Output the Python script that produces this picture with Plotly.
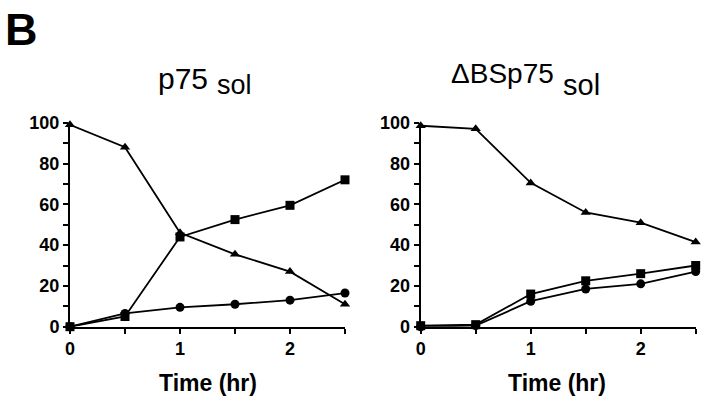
import plotly.graph_objects as go

time_hr = [0, 0.5, 1, 1.5, 2, 2.5]

# Left panel: p75sol
p75_triangle = [99, 88, 46, 35.5, 27, 11]
p75_square = [0, 5, 44, 52.5, 59.5, 72]
p75_circle = [0, 6.5, 9.5, 11, 13, 16.5]

# Right panel: ΔBSp75sol
dbs_triangle = [98.5, 97, 70.5, 56, 51, 41.5]
dbs_square = [0.5, 1, 16, 22.5, 26, 30]
dbs_circle = [0, 0.5, 12.5, 18.5, 21, 27]

y_ticks = [0, 20, 40, 60, 80, 100]
x_ticks = [0, 1, 2]

W, H = 720, 403
fig = go.Figure()

def add_series(xaxis, yaxis, ys, symbol, size):
    fig.add_trace(go.Scatter(
        x=time_hr, y=ys, mode="lines+markers", xaxis=xaxis, yaxis=yaxis,
        line=dict(color="black", width=1.8),
        marker=dict(symbol=symbol, size=size, color="black"),
        cliponaxis=False, showlegend=False, hoverinfo="skip"))

add_series("x", "y", p75_triangle, "triangle-up", 9)
add_series("x", "y", p75_square, "square", 9)
add_series("x", "y", p75_circle, "circle", 9)
add_series("x2", "y2", dbs_triangle, "triangle-up", 9)
add_series("x2", "y2", dbs_square, "square", 9)
add_series("x2", "y2", dbs_circle, "circle", 9)

tickfont = dict(family="Liberation Sans", size=18, color="black", weight="bold")
ydom = [1 - 326.7 / H, 1 - 122.7 / H]

def xax(dom):
    return dict(domain=dom, range=[0, 2.5], showline=True, linecolor="black", linewidth=2,
                ticks="outside", ticklen=5, tickwidth=1.5, tickcolor="black",
                tickvals=x_ticks, ticktext=[str(v) for v in x_ticks],
                minor=dict(dtick=0.5, tick0=0, ticks="outside", ticklen=5, tickwidth=1.5, tickcolor="black"),
                showgrid=False, zeroline=False, tickfont=tickfont, fixedrange=True, automargin=False)

def yax(anchor):
    return dict(domain=ydom, range=[0, 100], anchor=anchor, showline=True, linecolor="black", linewidth=2,
                ticks="outside", ticklen=5, tickwidth=1.5, tickcolor="black",
                tickvals=y_ticks, ticktext=[str(v) for v in y_ticks],
                minor=dict(dtick=10, tick0=0, ticks="outside", ticklen=5, tickwidth=1.5, tickcolor="black"),
                showgrid=False, zeroline=False, tickfont=tickfont, fixedrange=True, automargin=False)

fig.update_layout(
    width=W, height=H, margin=dict(l=0, r=0, t=0, b=0, autoexpand=False),
    paper_bgcolor="white", plot_bgcolor="white",
    xaxis=dict(**xax([70 / W, 345 / W]), anchor="y"),
    yaxis=yax("x"),
    xaxis2=dict(**xax([420.7 / W, 695.7 / W]), anchor="y2"),
    yaxis2=yax("x2"),
)

def ann(text, x, y, size, xanchor="left", yanchor="middle", weight="normal"):
    fig.add_annotation(text=text, x=x / W, y=1 - y / H, xref="paper", yref="paper",
                       xanchor=xanchor, yanchor=yanchor, showarrow=False,
                       font=dict(family="Liberation Sans", size=size, color="black", weight=weight))

ann("B", 3, 29, 45, weight="bold")
ann("p75", 156, 78, 30)
ann("sol", 215, 85, 27)
ann("ΔBSp75", 449, 74, 28)
ann("sol", 561, 85, 29)
ann("Time (hr)", 208, 383, 23, xanchor="center", weight="bold")
ann("Time (hr)", 557, 383, 23, xanchor="center", weight="bold")

fig.write_html("out.html", config={"displayModeBar": False},
               post_script="document.body.style.margin='0';document.body.style.overflow='hidden';")
